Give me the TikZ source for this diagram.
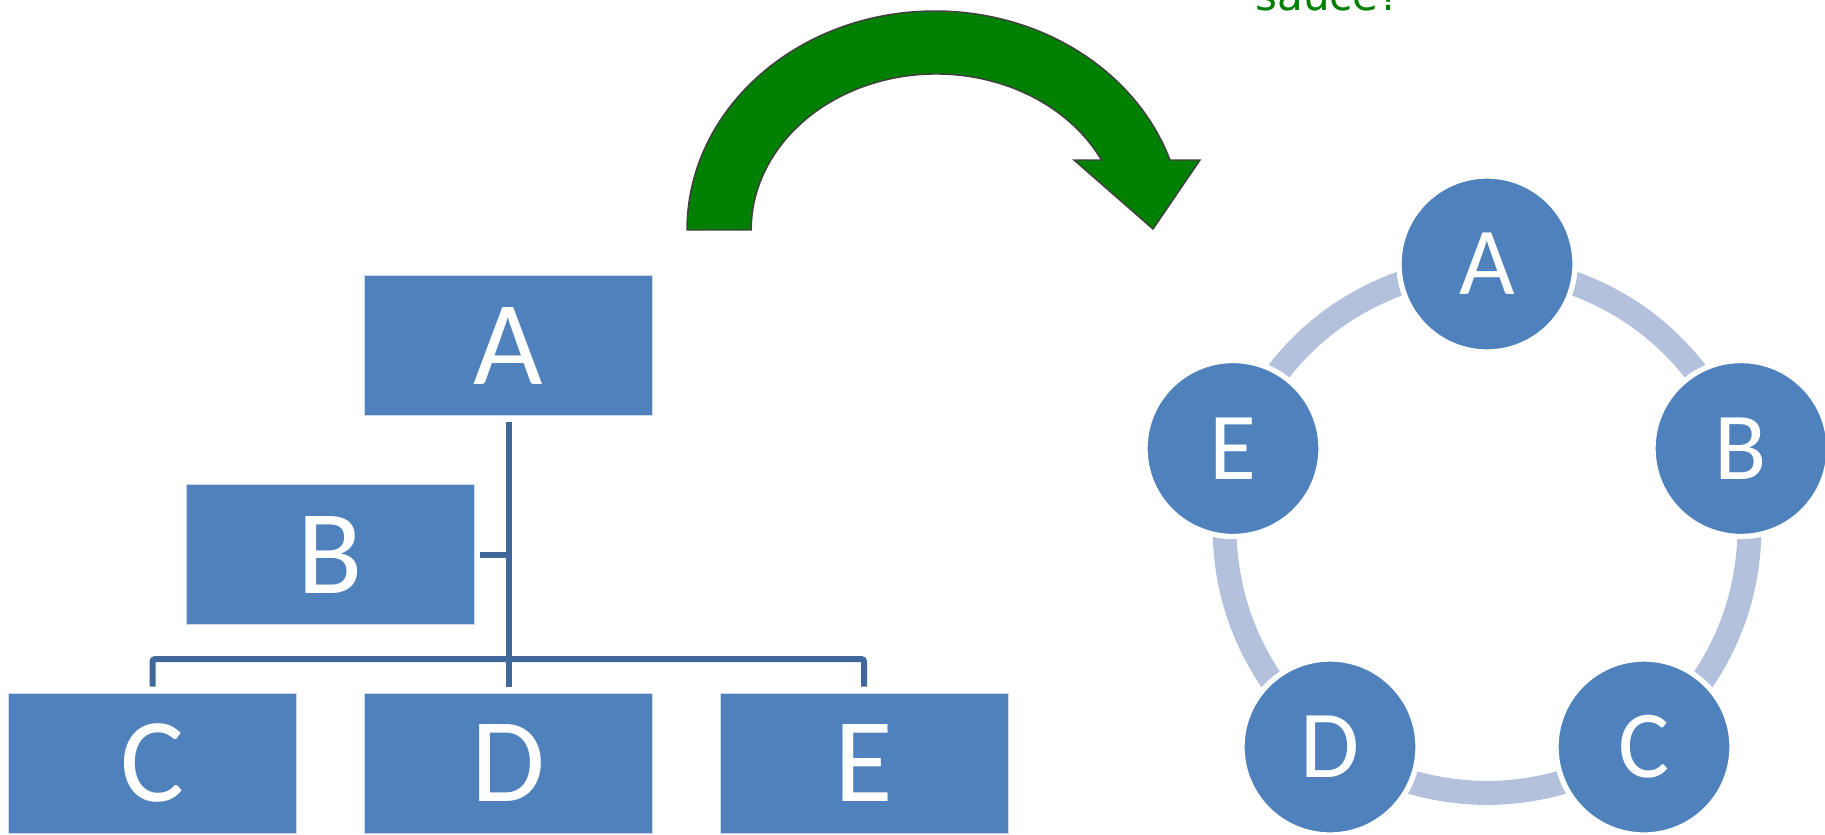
\documentclass[tikz,border=0pt]{standalone}
\usepackage{fontspec}
\setmainfont{Carlito}
\newfontfamily\notefont{DejaVu Sans}
\usetikzlibrary{backgrounds}

\definecolor{boxblue}{RGB}{79,129,189}
\definecolor{linkblue}{RGB}{65,104,154}
\definecolor{ringblue}{RGB}{179,193,220}
\definecolor{arrowgreen}{RGB}{0,128,0}
\definecolor{arrowedge}{RGB}{64,64,64}

\tikzset{every picture/.style={line width=0.75pt}}
\tikzset{
  orgbox/.style={rectangle, fill=boxblue, draw=white!70!boxblue, line width=0.75pt,
    minimum width=216pt, minimum height=105pt, inner sep=0pt, text=white,
    font=\fontsize{90}{90}\selectfont},
  cyclenode/.style={circle, fill=boxblue, draw=white, line width=4pt,
    minimum size=132pt, inner sep=0pt, text=white,
    font=\fontsize{72}{72}\selectfont},
  orgline/.style={draw=linkblue, line width=4.5pt},
  ringarc/.style={draw=ringblue, line width=18pt},
}

\begin{document}
\begin{tikzpicture}[x=0.75pt,y=0.75pt,yscale=-1,xscale=1]
\useasboundingbox (0,0) rectangle (1825,835);

% Text Node
\node[anchor=base west, inner sep=0pt, text=arrowgreen, font=\notefont\fontsize{31.5}{31.5}\selectfont] (question) at (1255,10.5) {sauce?};

% Curved arrow
\draw[draw=arrowedge, fill=arrowgreen, line width=1.1pt, line join=miter] (687,230) arc[start angle=180, end angle=341.36, x radius=248, y radius=219] -- (1200,160) -- (1153,229) -- (1074,160) -- (1101.5,160) arc[start angle=333.34, end angle=180, x radius=185, y radius=156] -- cycle;

% Tree
\node[orgbox] (boxA) at (508.5,345.5) {A};
\node[orgbox] (boxB) at (330.5,554.5) {B};
\node[orgbox] (boxC) at (152.5,763) {C};
\node[orgbox] (boxD) at (508.5,763) {D};
\node[orgbox] (boxE) at (864,763) {E};
\coordinate (bar) at (508.5,659);

% Connection
\draw[orgline] ([yshift=4.5pt]boxA.south) -- ([yshift=-4.5pt]boxD.north);
\draw[orgline] ([xshift=4pt]boxB.east) -- (boxB.east -| boxA.south);
\draw[orgline, rounded corners=2pt] ([yshift=-4.5pt]boxC.north) |- (bar) -| ([yshift=-4.5pt]boxE.north);

% Cycle
\node[cyclenode] (circA) at (1487,264) {A};
\node[cyclenode] (circB) at (1741,448.5) {B};
\node[cyclenode] (circC) at (1644,747) {C};
\node[cyclenode] (circD) at (1330,747) {D};
\node[cyclenode] (circE) at (1233,448.5) {E};

\begin{scope}[on background layer]
\foreach \from/\to in {circA/circB, circB/circC, circC/circD, circD/circE, circE/circA}
  \draw[ringarc] (\from.center) to[bend right=30] (\to.center);
\end{scope}

\end{tikzpicture}
\end{document}
